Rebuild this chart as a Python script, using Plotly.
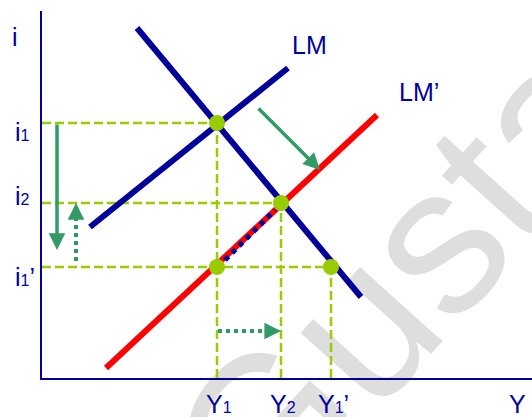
import math
import plotly.graph_objects as go

# ---- data (units: output Y to the right, interest rate i upwards) ----
lm_x = [48, 246]
lm_y = [151, 310]
is_x = [95, 319]
is_y = [350, 81]
lm2_x = [64, 335]
lm2_y = [10, 263]

# equilibrium / reference points: E1 (Y1,i1), E2 (Y2,i2), E3 (Y1,i1'), E4 (Y1',i1')
pt_x = [175, 239, 175, 289]
pt_y = [255, 175, 111, 111]
guide_pts = [0, 1, 3]          # points that get dashed guide lines to both axes

# path of the economy along LM' (blue dotted)
path_x = [183, 233]
path_y = [118, 168]

# arrows: (tail_x, tail_y, tip_x, tip_y)
arrow_shift = (215, 271, 278, 208)     # LM -> LM'
arrow_i_down = (15, 255, 15, 128)      # i1 -> i1'
arrow_i_up = (34, 117, 34, 175)        # i1' -> i2
arrow_y_right = (176, 47, 239, 47)     # Y1 -> Y2

x_tick_vals = [175, 239, 289]
x_tick_text = ["Y<span style='font-size:16px'>1</span>",
               "Y<span style='font-size:16px'>2</span>",
               "Y<span style='font-size:16px'>1</span>’"]
y_tick_vals = [255, 175, 111]
y_tick_text = ["i<span style='font-size:16px'>1</span>",
               "i<span style='font-size:16px'>2</span>",
               "i<span style='font-size:16px'>1</span>’"]
y_tick_shift = [-9, 7, -10]

NAVY = "#000099"
RED = "#ff0000"
LIME = "#99cc00"
GREEN = "#339966"
FONT = "Liberation Sans, Arial, sans-serif"

fig = go.Figure()

# dashed guides
for k in guide_pts:
    fig.add_trace(go.Scatter(x=[0, pt_x[k]], y=[pt_y[k], pt_y[k]], mode="lines",
                             line=dict(color=LIME, width=2.5, dash="9px,4px"),
                             hoverinfo="skip"))
    fig.add_trace(go.Scatter(x=[pt_x[k], pt_x[k]], y=[0, pt_y[k]], mode="lines",
                             line=dict(color=LIME, width=2.5, dash="9px,4px"),
                             hoverinfo="skip"))

# curves
fig.add_trace(go.Scatter(x=lm2_x, y=lm2_y, mode="lines", line=dict(color=RED, width=6)))
fig.add_trace(go.Scatter(x=lm_x, y=lm_y, mode="lines", line=dict(color=NAVY, width=6)))
fig.add_trace(go.Scatter(x=is_x, y=is_y, mode="lines", line=dict(color=NAVY, width=6)))
fig.add_trace(go.Scatter(x=path_x, y=path_y, mode="lines",
                         line=dict(color=NAVY, width=5, dash="5px,5px")))

# dotted arrow shafts (stop at the base of the head)
for a in (arrow_i_up, arrow_y_right):
    L = math.hypot(a[2] - a[0], a[3] - a[1])
    ux, uy = (a[2] - a[0]) / L, (a[3] - a[1]) / L
    fig.add_trace(go.Scatter(x=[a[0], a[2] - ux * 12], y=[a[1], a[3] - uy * 12],
                             mode="lines",
                             line=dict(color=GREEN, width=4, dash="4px,4px")))

# points
fig.add_trace(go.Scatter(x=pt_x, y=pt_y, mode="markers",
                         marker=dict(color=LIME, size=16, line=dict(width=0))))

annotations = []
head = dict(xref="x", yref="y", axref="x", ayref="y", showarrow=True, arrowhead=2,
            arrowwidth=3.5, arrowsize=0.95, arrowcolor=GREEN, text="")
# solid arrows
for a in (arrow_shift, arrow_i_down):
    annotations.append(dict(head, x=a[2] - 0, y=a[3], ax=a[0], ay=a[1]))
# heads only for dotted arrows
for a in (arrow_i_up, arrow_y_right):
    L = math.hypot(a[2] - a[0], a[3] - a[1])
    ux, uy = (a[2] - a[0]) / L, (a[3] - a[1]) / L
    annotations.append(dict(head, x=a[2], y=a[3], ax=a[2] - ux * 10, ay=a[3] - uy * 10))

txt = dict(family=FONT, size=25, color=NAVY)
for v, t in zip(x_tick_vals, x_tick_text):
    annotations.append(dict(x=v, y=0, xref="x", yref="paper", text=t, showarrow=False,
                            xanchor="center", yanchor="middle", yshift=-26, xshift=2,
                            font=txt))
for v, t, s in zip(y_tick_vals, y_tick_text, y_tick_shift):
    annotations.append(dict(x=0, y=v, xref="paper", yref="y", text=t, showarrow=False,
                            xanchor="left", yanchor="middle", xshift=-29, yshift=s,
                            font=txt))
annotations.append(dict(x=1, y=0, xref="paper", yref="paper", text="Y", showarrow=False,
                        xanchor="center", yanchor="middle", xshift=-15, yshift=-26, font=txt))
annotations.append(dict(x=0, y=1, xref="paper", yref="paper", text="i", showarrow=False,
                        xanchor="center", yanchor="middle", xshift=-27, yshift=-26, font=txt))
annotations.append(dict(x=267, y=333, xref="x", yref="y", text="LM", showarrow=False,
                        xanchor="center", yanchor="middle", font=txt))
annotations.append(dict(x=377, y=286, xref="x", yref="y", text="LM’", showarrow=False,
                        xanchor="center", yanchor="middle", font=txt))

# watermark (drawn below the chart)
wm_cx, wm_cy = 0.848, 0.523
shapes = [dict(type="rect", xref="paper", yref="paper",
               x0=wm_cx - 0.01, x1=wm_cx + 0.01, y0=wm_cy - 0.01, y1=wm_cy + 0.01,
               line=dict(width=0), fillcolor="rgba(0,0,0,0)", layer="below",
               label=dict(text="Gustavo", textangle=-48, textposition="middle center",
                          font=dict(family=FONT, size=210, color="#dedede")))]

fig.update_layout(
    width=532, height=417,
    margin=dict(l=42, r=0, t=11, b=39),
    paper_bgcolor="white", plot_bgcolor="rgba(0,0,0,0)",
    showlegend=False,
    annotations=annotations,
    shapes=shapes,
    xaxis=dict(range=[0, 490], showgrid=False, zeroline=False, showticklabels=False,
               ticks="", showline=True, linecolor=NAVY, linewidth=1.5, fixedrange=True),
    yaxis=dict(range=[0, 367], showgrid=False, zeroline=False, showticklabels=False,
               ticks="", showline=True, linecolor=NAVY, linewidth=1.5, fixedrange=True),
)
fig.update_traces(cliponaxis=False, selector=dict(type="scatter"))

fig.write_html("out.html", config={"displayModeBar": False},
               post_script="document.body.style.margin='0px';")
